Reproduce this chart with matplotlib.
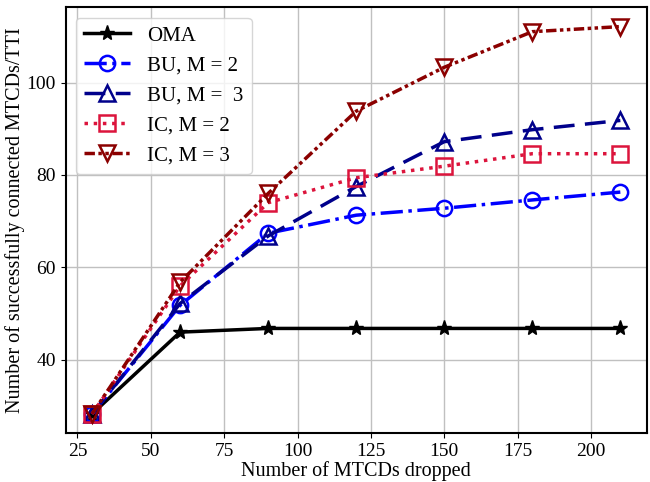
import numpy as np
import matplotlib
matplotlib.use("Agg")
import matplotlib.pyplot as plt

plt.rcParams['font.family'] = ['Liberation Serif', 'DejaVu Serif']
plt.rcParams['mathtext.fontset'] = 'stix'

# number of MTCDs dropped
mtcds = [30, 60, 90, 120, 150, 180, 210]

oma = [28.3, 46.0, 46.8, 46.8, 46.8, 46.8, 46.8]
bu_m2 = [28.3, 51.8, 67.4, 71.3, 72.8, 74.6, 76.3]
bu_m3 = [28.3, 52.2, 66.8, 77.5, 87.2, 89.8, 91.8]
ic_m2 = [28.3, 56.0, 74.0, 79.4, 81.9, 84.6, 84.6]
ic_m3 = [28.3, 56.8, 76.0, 93.8, 103.3, 111.0, 112.1]

fig = plt.figure(figsize=(6.5, 4.82), dpi=100)
ax = fig.add_axes([0.101, 0.101, 0.894, 0.884])

ms = 11
lw = 2.5
ax.plot(mtcds, oma, color="black", linestyle="-", marker="*", markersize=ms,
        linewidth=lw, label="OMA")
ax.plot(mtcds, bu_m2, color="#0000ff", linestyle="-.", marker="o", markersize=ms,
        markerfacecolor="none", markeredgewidth=1.8, linewidth=lw, label="BU, M = 2")
ax.plot(mtcds, bu_m3, color="#00008b", linestyle=(0, (6, 3)), marker="^", markersize=ms,
        markerfacecolor="none", markeredgewidth=1.8, linewidth=lw, label="BU, M =  3")
ax.plot(mtcds, ic_m2, color="#dc143c", linestyle=":", marker="s", markersize=ms,
        markerfacecolor="none", markeredgewidth=1.8, linewidth=lw, label="IC, M = 2")
ax.plot(mtcds, ic_m3, color="#8b0000", linestyle=(0, (3, 1, 1, 1, 1, 1)), marker="v", markersize=ms,
        markerfacecolor="none", markeredgewidth=1.8, linewidth=lw, label="IC, M = 3")

ax.set_xticks([25, 50, 75, 100, 125, 150, 175, 200])
ax.set_yticks([40, 60, 80, 100])
ax.tick_params(labelsize=14)
ax.grid(True, color="#c0c0c0", linewidth=1)
for s in ax.spines.values():
    s.set_linewidth(1.5)

ax.set_xlabel("Number of MTCDs dropped", fontsize=14.5, labelpad=1)
ax.set_ylabel("Number of successfully connected MTCDs/TTI", fontsize=14.5, labelpad=1)
ax.legend(loc="upper left", fontsize=15, handlelength=2.2)

fig.savefig("out.png", dpi=100)
